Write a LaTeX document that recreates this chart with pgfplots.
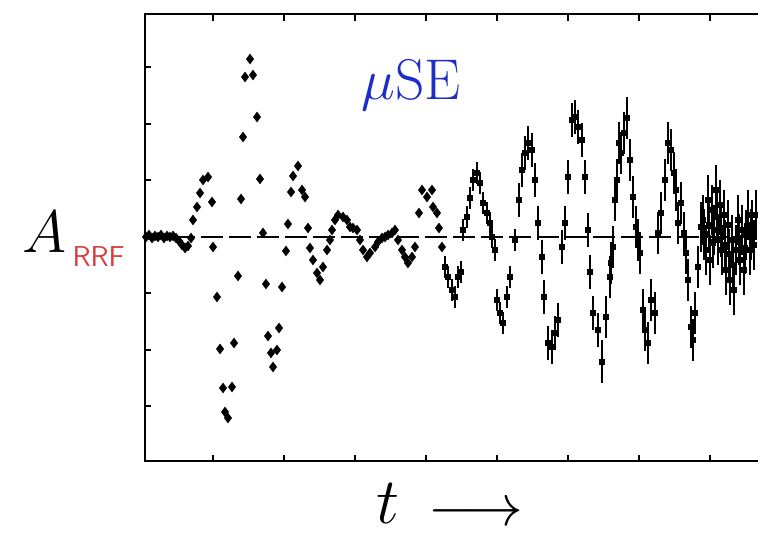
\RequirePackage{fix-cm}
\documentclass[border=0pt]{standalone}
\usepackage{xcolor}
\usepackage{pgfplots}
\usepackage{pgfplotstable}
\pgfplotsset{compat=1.18}

\definecolor{muBlue}{HTML}{1F2DC8}
\definecolor{rrfRed}{HTML}{D93A3A}

% early part of the signal: small scatter, tiny errors
\pgfplotstableread{
t A e
0.056 0.000 0.03
0.099 0.035 0.03
0.141 -0.018 0.03
0.183 0.018 0.03
0.225 0.000 0.03
0.268 0.035 0.03
0.310 -0.018 0.03
0.352 0.018 0.03
0.394 0.000 0.03
0.437 0.018 0.03
0.479 -0.018 0.03
0.521 -0.071 0.03
0.563 -0.142 0.03
0.606 -0.195 0.03
0.648 -0.159 0.03
0.690 -0.018 0.03
0.718 0.301 0.03
0.775 0.531 0.03
0.817 0.779 0.03
0.859 1.009 0.03
0.930 1.062 0.03
0.986 0.619 0.03
1.000 -0.177 0.03
1.056 -1.062 0.03
1.099 -1.982 0.03
1.141 -2.673 0.03
1.169 -3.097 0.03
1.211 -3.204 0.03
1.268 -2.655 0.03
1.296 -1.876 0.03
1.352 -0.690 0.03
1.394 0.673 0.03
1.423 1.770 0.03
1.451 2.832 0.03
1.521 3.150 0.03
1.563 2.867 0.03
1.620 2.124 0.03
1.662 1.027 0.03
1.704 0.071 0.03
1.746 -0.832 0.03
1.775 -1.752 0.03
1.817 -2.053 0.03
1.845 -2.301 0.03
1.901 -2.000 0.03
1.930 -1.611 0.03
1.972 -0.885 0.03
2.028 -0.248 0.03
2.056 0.230 0.03
2.099 0.796 0.03
2.127 1.080 0.03
2.197 1.257 0.03
2.254 0.832 0.03
2.296 0.708 0.07
2.338 0.159 0.07
2.366 -0.195 0.07
2.408 -0.407 0.07
2.465 -0.637 0.07
2.507 -0.761 0.07
2.549 -0.531 0.07
2.606 -0.230 0.07
2.648 -0.053 0.07
2.676 0.124 0.07
2.718 0.301 0.07
2.761 0.389 0.07
2.831 0.354 0.07
2.887 0.301 0.07
2.930 0.177 0.07
2.972 0.159 0.07
3.028 0.124 0.07
3.070 -0.053 0.07
3.113 -0.230 0.07
3.169 -0.354 0.07
3.211 -0.283 0.07
3.282 -0.177 0.07
3.324 -0.088 0.07
3.380 -0.018 0.07
3.423 0.000 0.07
3.465 0.035 0.07
3.521 0.071 0.07
3.563 0.124 0.07
3.606 -0.053 0.07
3.662 -0.230 0.07
3.704 -0.354 0.07
3.746 -0.460 0.07
3.803 -0.354 0.07
3.845 -0.177 0.07
3.901 0.425 0.07
3.944 0.832 0.07
4.014 0.708 0.07
4.085 0.832 0.07
4.099 0.531 0.07
4.155 0.425 0.07
4.183 0.159 0.07
4.225 -0.177 0.07
}\early

% later part: growing oscillation, larger error bars
\pgfplotstableread{
t A e
4.268 -0.531 0.20
4.310 -0.708 0.20
4.366 -0.938 0.20
4.408 -1.062 0.20
4.451 -0.708 0.20
4.493 -0.619 0.20
4.521 0.124 0.20
4.577 0.354 0.20
4.620 0.690 0.20
4.662 1.009 0.20
4.718 1.133 0.20
4.761 0.956 0.20
4.803 0.602 0.20
4.859 0.425 0.20
4.901 0.248 0.20
4.930 0.000 0.20
4.972 -0.230 0.20
5.000 -1.115 0.20
5.042 -1.345 0.20
5.085 -1.522 0.20
5.141 -1.062 0.20
5.183 -0.708 0.20
5.254 -0.053 0.20
5.310 0.655 0.30
5.352 1.186 0.30
5.394 1.487 0.30
5.437 1.664 0.30
5.493 1.540 0.30
5.535 1.009 0.30
5.577 0.248 0.30
5.634 -0.354 0.30
5.662 -1.062 0.30
5.718 -1.876 0.30
5.775 -1.947 0.30
5.817 -1.699 0.30
5.859 -1.469 0.30
5.915 -0.177 0.30
5.958 0.248 0.30
6.000 1.062 0.30
6.056 2.071 0.30
6.099 2.124 0.30
6.141 1.947 0.30
6.197 1.717 0.30
6.239 1.062 0.30
6.282 0.124 0.30
6.310 -0.619 0.30
6.352 -1.345 0.30
6.423 -1.646 0.30
6.479 -2.212 0.38
6.535 -1.416 0.38
6.592 -0.708 0.38
6.606 -0.460 0.38
6.634 -0.177 0.38
6.662 0.655 0.38
6.690 1.009 0.38
6.718 1.664 0.38
6.746 1.487 0.38
6.789 1.841 0.38
6.831 2.106 0.38
6.873 1.363 0.38
6.915 0.708 0.38
6.958 0.177 0.38
6.986 -0.053 0.38
7.014 -0.283 0.38
7.056 -1.292 0.38
7.085 -1.646 0.38
7.127 -1.876 0.38
7.169 -1.115 0.38
7.225 -1.345 0.38
7.268 0.071 0.38
7.310 0.425 0.38
7.366 1.009 0.38
7.408 1.664 0.38
7.451 1.540 0.38
7.493 1.133 0.38
7.521 0.832 0.38
7.549 0.248 0.38
7.592 0.602 0.38
7.634 0.071 0.38
7.662 -0.283 0.38
7.690 -0.761 0.38
7.732 -1.593 0.38
7.761 -1.823 0.38
7.789 -1.345 0.38
7.831 -0.531 0.38
7.873 0.177 0.45
7.901 0.301 0.45
7.922 0.050 0.45
7.944 -0.230 0.45
7.972 0.655 0.45
7.986 0.200 0.45
8.000 -0.407 0.45
8.028 0.478 0.45
8.042 -0.100 0.45
8.056 0.124 0.45
8.085 0.832 0.45
8.099 0.350 0.45
8.113 -0.053 0.45
8.141 0.566 0.45
8.155 0.100 0.45
8.169 -0.230 0.45
8.197 0.389 0.45
8.211 -0.150 0.45
8.225 -0.584 0.45
8.254 0.212 0.45
8.268 -0.300 0.45
8.282 -0.761 0.45
8.310 -0.053 0.45
8.324 -0.500 0.45
8.338 -0.938 0.45
8.366 -0.230 0.45
8.394 0.301 0.45
8.408 -0.050 0.45
8.423 -0.407 0.45
8.451 0.124 0.45
8.479 -0.584 0.45
8.493 -0.200 0.45
8.507 0.035 0.45
8.535 0.389 0.45
8.563 -0.230 0.45
8.578 0.050 0.45
8.592 0.212 0.45
8.620 -0.142 0.45
8.648 0.389 0.45
}\late

\begin{document}
\begin{tikzpicture}
% the right spine lies just past the page edge, as in the cropped original
\begin{axis}[
  name=ax,
  scale only axis,
  width=247.6pt, height=178.8pt,
  xmin=0.042, xmax=8.761,
  ymin=-3.965, ymax=3.947,
  axis line style={line width=1.1pt},
  xtick={1,...,8}, ytick={-3,-2,-1,1,2,3},
  tick pos=both,
  xticklabels={}, yticklabels={},
  tick align=inside,
  major tick length=2.5pt,
  tick style={black, line width=0.8pt},
  clip=false,
]
\addplot[black, line width=0.7pt, dash pattern=on 9pt off 2.2pt]
  coordinates {(0.042,0) (8.676,0)};
\addplot[only marks, black, mark=diamond*, mark size=1.8pt,
  error bars/.cd, y dir=both, y explicit, error mark=none,
  error bar style={line width=0.8pt}]
  table[x=t, y=A, y error=e] {\early};
\addplot[only marks, black, mark=square*, mark size=1.1pt,
  error bars/.cd, y dir=both, y explicit, error mark=none,
  error bar style={line width=0.8pt}]
  table[x=t, y=A, y error=e] {\late};

% ticks along the top edge
\draw[black, line width=0.9pt]
  (axis cs:1,3.947) -- ++(0pt,-2.8pt)
  (axis cs:2,3.947) -- ++(0pt,-2.8pt)
  (axis cs:3,3.947) -- ++(0pt,-2.8pt)
  (axis cs:4,3.947) -- ++(0pt,-2.8pt)
  (axis cs:5,3.947) -- ++(0pt,-2.8pt)
  (axis cs:6,3.947) -- ++(0pt,-2.8pt)
  (axis cs:7,3.947) -- ++(0pt,-2.8pt)
  (axis cs:8,3.947) -- ++(0pt,-2.8pt);

\node[anchor=base, inner sep=0pt, text=muBlue] at (axis cs:3.789,2.425)
  {\fontsize{23}{23}\selectfont$\mu$SE};
\node[anchor=base west, inner sep=0pt] at (axis cs:-1.69,-0.283)
  {\fontsize{24}{24}\selectfont$A$};
\node[anchor=base west, inner sep=0pt, text=rrfRed] at (axis cs:-0.986,-0.531)
  {\fontsize{11.5}{11.5}\selectfont\sffamily RRF};
\node[anchor=base, inner sep=0pt] at (axis cs:3.465,-5.08)
  {\fontsize{26}{26}\selectfont$t$};
\node[anchor=base west, inner sep=0pt] at (axis cs:4.028,-5.10)
  {\fontsize{23.5}{23.5}\selectfont$\longrightarrow$};
\end{axis}
\pgfresetboundingbox
\path[use as bounding box] ([shift={(-58pt,-29.2pt)}]ax.south west)
  rectangle ([shift={(-2.4pt,5.6pt)}]ax.north east);
\end{tikzpicture}
\end{document}
